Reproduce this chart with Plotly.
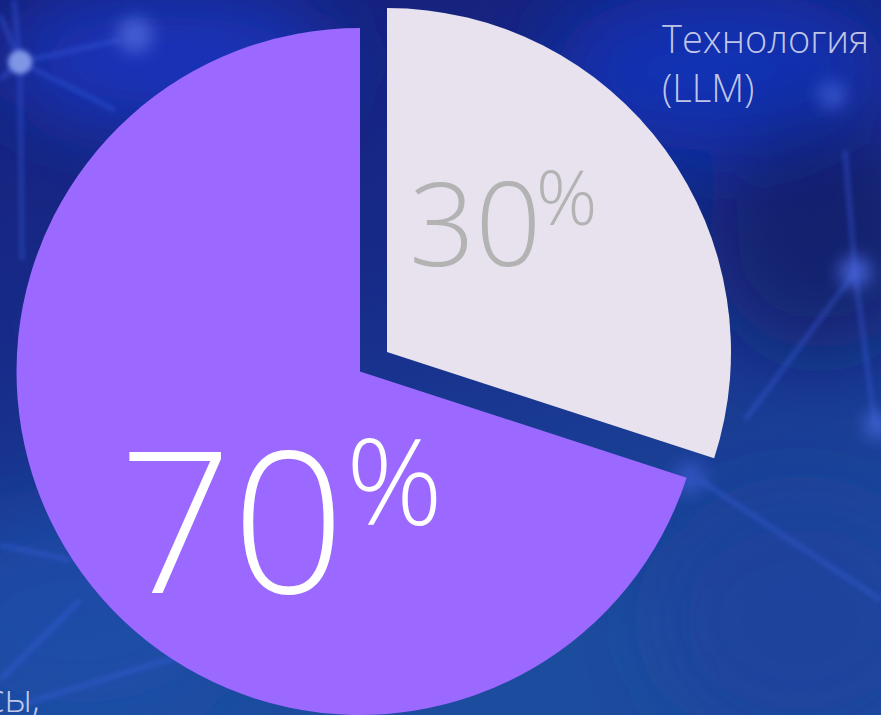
import base64
import plotly.graph_objects as go

# ---------------- data ----------------
categories = ["Технология (LLM)", "Бизнес-процессы, люди"]
values = [30, 70]
slice_colors = ["#e7e2ee", "#9b69ff"]
value_text_colors = ["#b3b3b3", "#ffffff"]
outside_labels = ["Технология<br>(LLM)", "Бизнес-процессы,"]

W, H = 881, 715
FONT = "Open Sans"

# ---------------- background (decorative network picture) ----------------
svg = f"""<svg xmlns="http://www.w3.org/2000/svg" width="{W}" height="{H}" viewBox="0 0 {W} {H}">
<defs>
<linearGradient id="bg" x1="0" y1="0" x2="0.25" y2="1">
<stop offset="0" stop-color="#16207a"/>
<stop offset="0.45" stop-color="#172a88"/>
<stop offset="1" stop-color="#1c4c9e"/>
</linearGradient>
<filter id="b2" x="-50%" y="-50%" width="200%" height="200%"><feGaussianBlur stdDeviation="2.5"/></filter>
<filter id="b8" x="-50%" y="-50%" width="200%" height="200%"><feGaussianBlur stdDeviation="8"/></filter>
<filter id="b40" x="-50%" y="-50%" width="200%" height="200%"><feGaussianBlur stdDeviation="40"/></filter>
</defs>
<rect width="{W}" height="{H}" fill="url(#bg)"/>
<g filter="url(#b40)">
<ellipse cx="170" cy="60" rx="170" ry="70" fill="#1b38c8" opacity="0.8"/>
<ellipse cx="720" cy="70" rx="170" ry="80" fill="#1432c0" opacity="0.8"/>
<ellipse cx="820" cy="230" rx="110" ry="120" fill="#141c62" opacity="0.7"/>
<ellipse cx="80" cy="620" rx="160" ry="110" fill="#2152b0" opacity="0.6"/>
<ellipse cx="800" cy="620" rx="140" ry="120" fill="#1a3c9c" opacity="0.6"/>
</g>
<g stroke="#3c62e6" stroke-width="4" opacity="0.45" filter="url(#b2)" fill="none">
<line x1="20" y1="62" x2="0" y2="15"/>
<line x1="20" y1="62" x2="14" y2="0"/>
<line x1="20" y1="62" x2="0" y2="80"/>
<line x1="20" y1="62" x2="22" y2="260"/>
<line x1="20" y1="62" x2="115" y2="110"/>
<line x1="20" y1="62" x2="120" y2="40"/>
<line x1="0" y1="680" x2="80" y2="600"/>
<line x1="20" y1="705" x2="200" y2="650"/>
<line x1="0" y1="545" x2="70" y2="560"/>
<line x1="855" y1="272" x2="845" y2="150"/>
<line x1="855" y1="272" x2="745" y2="420"/>
<line x1="855" y1="272" x2="875" y2="425"/>
<line x1="700" y1="480" x2="881" y2="600"/>
</g>
<g filter="url(#b8)">
<circle cx="135" cy="35" r="18" fill="#5a78e8" opacity="0.6"/>
<circle cx="855" cy="272" r="16" fill="#4a68e0" opacity="0.8"/>
<circle cx="878" cy="425" r="14" fill="#4a68e0" opacity="0.7"/>
<circle cx="832" cy="95" r="14" fill="#4a68e0" opacity="0.6"/>
<circle cx="690" cy="478" r="16" fill="#4060d8" opacity="0.6"/>
<circle cx="40" cy="330" r="14" fill="#4a68e0" opacity="0.5"/>
</g>
<circle cx="20" cy="62" r="12" fill="#7f95e6" filter="url(#b2)"/>
</svg>"""
bg_uri = "data:image/svg+xml;base64," + base64.b64encode(svg.encode("utf-8")).decode("ascii")

# ---------------- figure ----------------
fig = go.Figure()

# large slice (in place)
fig.add_trace(go.Pie(
    labels=categories, values=values, sort=False, direction="clockwise", rotation=0,
    marker=dict(colors=["rgba(0,0,0,0)", slice_colors[1]], line=dict(width=0)),
    textinfo="none", hoverinfo="skip", showlegend=False,
    domain=dict(x=[16 / W, 704 / W], y=[0, 687 / H]),
))
# small slice (pulled out along its bisector)
fig.add_trace(go.Pie(
    labels=categories, values=values, sort=False, direction="clockwise", rotation=0,
    marker=dict(colors=[slice_colors[0], "rgba(0,0,0,0)"], line=dict(width=0)),
    textinfo="none", hoverinfo="skip", showlegend=False,
    domain=dict(x=[43 / W, 731 / W], y=[19 / H, 707 / H]),
))


def px(x, y):
    return x / W, 1 - y / H


annotations = []
# value labels: number + smaller raised percent sign
num_specs = [  # (center x, center y, font size) for number; (cx, cy, size) for %
    ((475, 221, 116), (566, 196, 76)),
    ((232, 516, 198), (394, 478, 120)),
]
for v, col, (n, p) in zip(values, value_text_colors, num_specs):
    x, y = px(n[0], n[1])
    annotations.append(dict(text=str(v), x=x, y=y, xref="paper", yref="paper",
                            xanchor="center", yanchor="middle", showarrow=False,
                            font=dict(family=FONT, size=n[2], color=col, weight=300)))
    x, y = px(p[0], p[1])
    annotations.append(dict(text="%", x=x, y=y, xref="paper", yref="paper",
                            xanchor="center", yanchor="middle", showarrow=False,
                            font=dict(family=FONT, size=p[2], color=col, weight=300)))

# category labels
x, y = px(660, 10)
annotations.append(dict(text=outside_labels[0], x=x, y=y, xref="paper", yref="paper",
                        xanchor="left", yanchor="top", align="left", showarrow=False,
                        font=dict(family=FONT, size=38, color="rgba(215,218,240,0.9)", weight=300)))
x, y = px(42, 697)
annotations.append(dict(text=outside_labels[1], x=x, y=y, xref="paper", yref="paper",
                        xanchor="right", yanchor="middle", align="right", showarrow=False,
                        font=dict(family=FONT, size=38, color="rgba(215,218,240,0.9)", weight=300)))

fig.update_layout(
    width=W, height=H,
    margin=dict(l=0, r=0, t=0, b=0),
    paper_bgcolor="#172a88", plot_bgcolor="rgba(0,0,0,0)",
    showlegend=False,
    annotations=annotations,
    images=[dict(source=bg_uri, xref="paper", yref="paper", x=0, y=1, sizex=1, sizey=1,
                 xanchor="left", yanchor="top", sizing="stretch", layer="below")],
)

fig.write_html("out.html")
